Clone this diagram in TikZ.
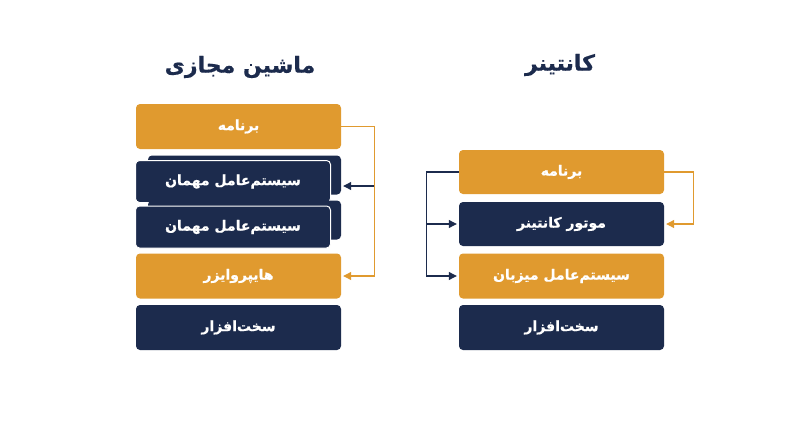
\documentclass[tikz,border=0pt]{standalone}
\usepackage{fontspec}
\usetikzlibrary{arrows.meta}
\newfontfamily\fa[Script=Arabic,BoldFont={DejaVu Sans Bold},BoldFeatures={FakeBold=0.6}]{DejaVu Sans}
\TeXXeTstate=1
\definecolor{navy}{HTML}{1C2B4D}
\definecolor{gold}{HTML}{E09A2F}
\newcommand{\zw}{^^^^200c}
\tikzset{
  layer/.style={rectangle, rounded corners=4pt, text=white, minimum width=205pt, minimum height=45pt, inner sep=0pt,
    font=\fa\bfseries\fontsize{14}{16}\selectfont},
  goldbox/.style={layer, fill=gold},
  navybox/.style={layer, fill=navy},
  backbox/.style={rectangle, rounded corners=4pt, fill=navy, inner sep=0pt, minimum width=193pt, minimum height=39pt},
  frontbox/.style={layer, fill=navy, draw=white, line width=1pt, minimum width=195pt, minimum height=42pt},
  title/.style={text=navy, font=\fa\bfseries\fontsize{22}{26}\selectfont},
  link/.style={line width=1.1pt, -{Triangle[length=8pt,width=8pt]}},
}
\begin{document}
\begin{tikzpicture}[x=1pt,y=-1pt]
\useasboundingbox[fill=white] (0,0) rectangle (800,447);
% titles
\node[title] (t1) at (240,67) {\beginR ماشین مجازی\endR};
\node[title] (t2) at (560,65) {\beginR کانتینر\endR};
% left column
\node[goldbox] (app1) at (238.5,126.5) {\beginR برنامه\endR};
\node[backbox] (g1b) at (244.5,175) {};
\node[frontbox] (g1) at (233,181.5) {\beginR سیستم\zw عامل مهمان\endR};
\node[backbox] (g2b) at (244.5,220) {};
\node[frontbox] (g2) at (233,227) {\beginR سیستم\zw عامل مهمان\endR};
\node[goldbox] (hyp) at (238.5,276) {\beginR هایپروایزر\endR};
\node[navybox] (hw1) at (238.5,327.5) {\beginR سخت\zw افزار\endR};
% right column
\node[goldbox, minimum height=44pt] (app2) at (561.5,172) {\beginR برنامه\endR};
\node[navybox, minimum height=44pt] (eng) at (561.5,224) {\beginR موتور کانتینر\endR};
\node[goldbox] (host) at (561.5,276) {\beginR سیستم\zw عامل میزبان\endR};
\node[navybox] (hw2) at (561.5,327.5) {\beginR سخت\zw افزار\endR};
% connectors left
\draw[link, gold, shorten >=2pt] (app1.east) -- ++(33,0) |- (hyp.east);
\coordinate (j1) at (374,186);
\draw[link, navy, shorten >=2pt] (j1) -- (g1b.east |- j1);
% connectors right
\draw[link, navy, shorten >=2pt] (app2.west) -- ++(-32,0) |- (host.west);
\coordinate (j2) at (427,224);
\draw[link, navy, shorten >=2pt] (j2) -- (eng.west);
\draw[link, gold, shorten >=2pt] (app2.east) -- ++(29,0) |- (eng.east);
\end{tikzpicture}
\end{document}
